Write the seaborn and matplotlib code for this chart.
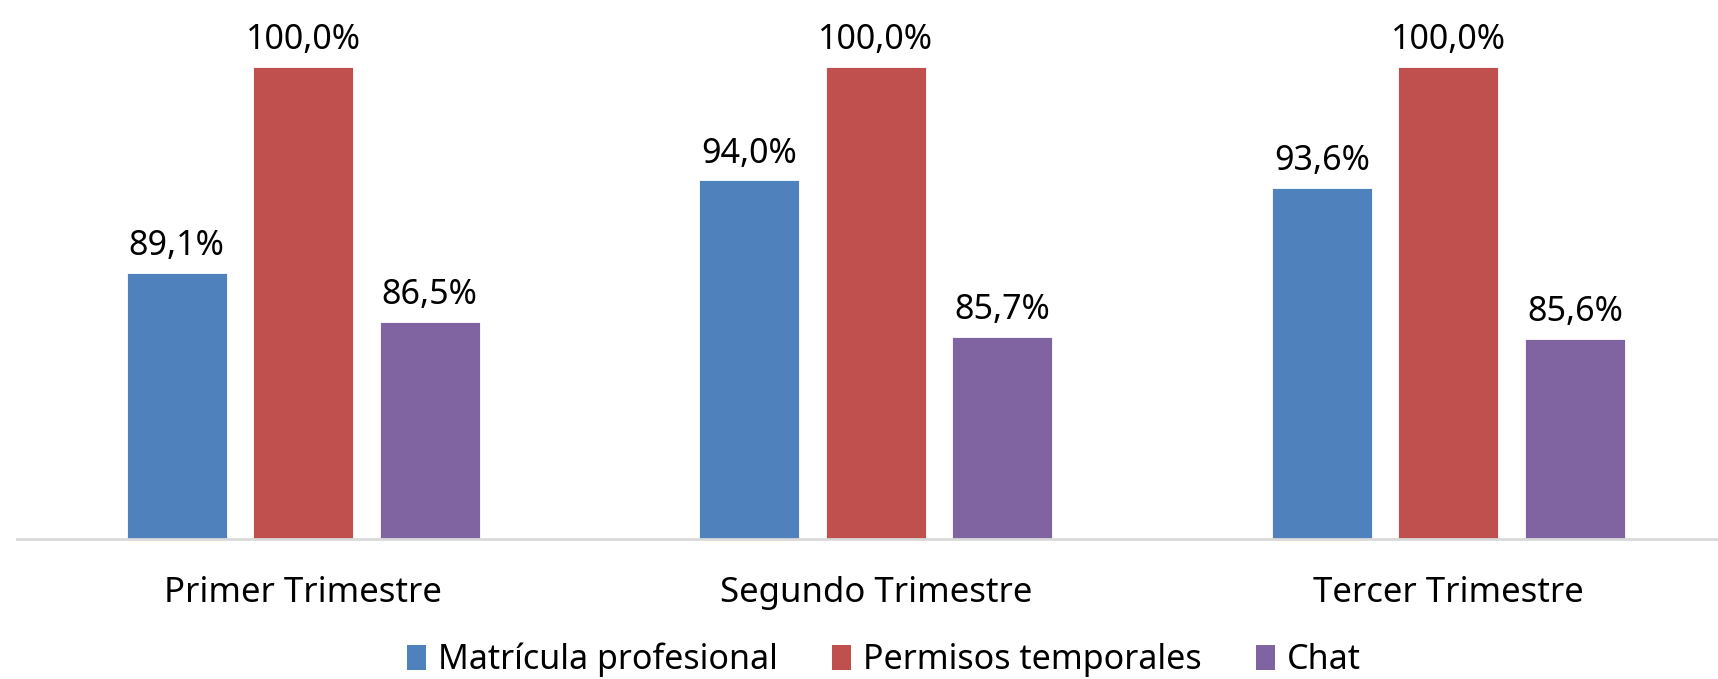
import matplotlib
matplotlib.use("Agg")
import matplotlib.pyplot as plt
import seaborn as sns
import pandas as pd
from matplotlib.patches import Patch

categories = ["Primer Trimestre", "Segundo Trimestre", "Tercer Trimestre"]
series = ["Matrícula profesional", "Permisos temporales", "Chat"]
matricula = [89.1, 94.0, 93.6]
permisos = [100.0, 100.0, 100.0]
chat = [86.5, 85.7, 85.6]
colors = ["#4F81BD", "#C0504D", "#8064A2"]

rows = []
for name, vals in zip(series, [matricula, permisos, chat]):
    for cat, v in zip(categories, vals):
        rows.append({"Trimestre": cat, "Servicio": name, "Valor": v})
df = pd.DataFrame(rows)

sns.set_theme(style="white")
plt.rcParams["font.family"] = ["Noto Sans", "DejaVu Sans"]

fig = plt.figure(figsize=(17.18, 6.79), dpi=100)
ax = fig.add_axes([17 / 1718, 1 - 539 / 679, 1 - 17 / 1718, (539 - 67) / 679])

sns.barplot(data=df, x="Trimestre", y="Valor", hue="Servicio",
            order=categories, hue_order=series, palette=colors, saturation=1,
            width=0.663, gap=0.21, legend=False, ax=ax,
            edgecolor="white", linewidth=0.6)

ax.set_ylim(75, 100)
ax.set_xlim(-0.5, 2.471)
ax.set_xlabel("")
ax.set_ylabel("")
ax.set_yticks([])
for s in ["top", "left", "right"]:
    ax.spines[s].set_visible(False)
ax.spines["bottom"].set_color("#D9D9D9")
ax.spines["bottom"].set_linewidth(2)
ax.tick_params(axis="x", length=0, pad=27, labelsize=25, labelcolor="black")

for container in ax.containers:
    ax.bar_label(container, labels=[f"{v:.1f}".replace(".", ",") + "%" for v in container.datavalues],
                 padding=7, fontsize=24.5, color="black", clip_on=False)

handles = [Patch(facecolor=c, edgecolor="none") for c in colors]
fig.legend(handles, series, loc="center", bbox_to_anchor=(0.5146, 1 - 660 / 679),
           ncol=3, frameon=False, fontsize=24.5, handlelength=0.55, handleheight=0.75,
           handletextpad=0.35, columnspacing=1.6, labelcolor="black")

fig.savefig("out.png", dpi=100)
